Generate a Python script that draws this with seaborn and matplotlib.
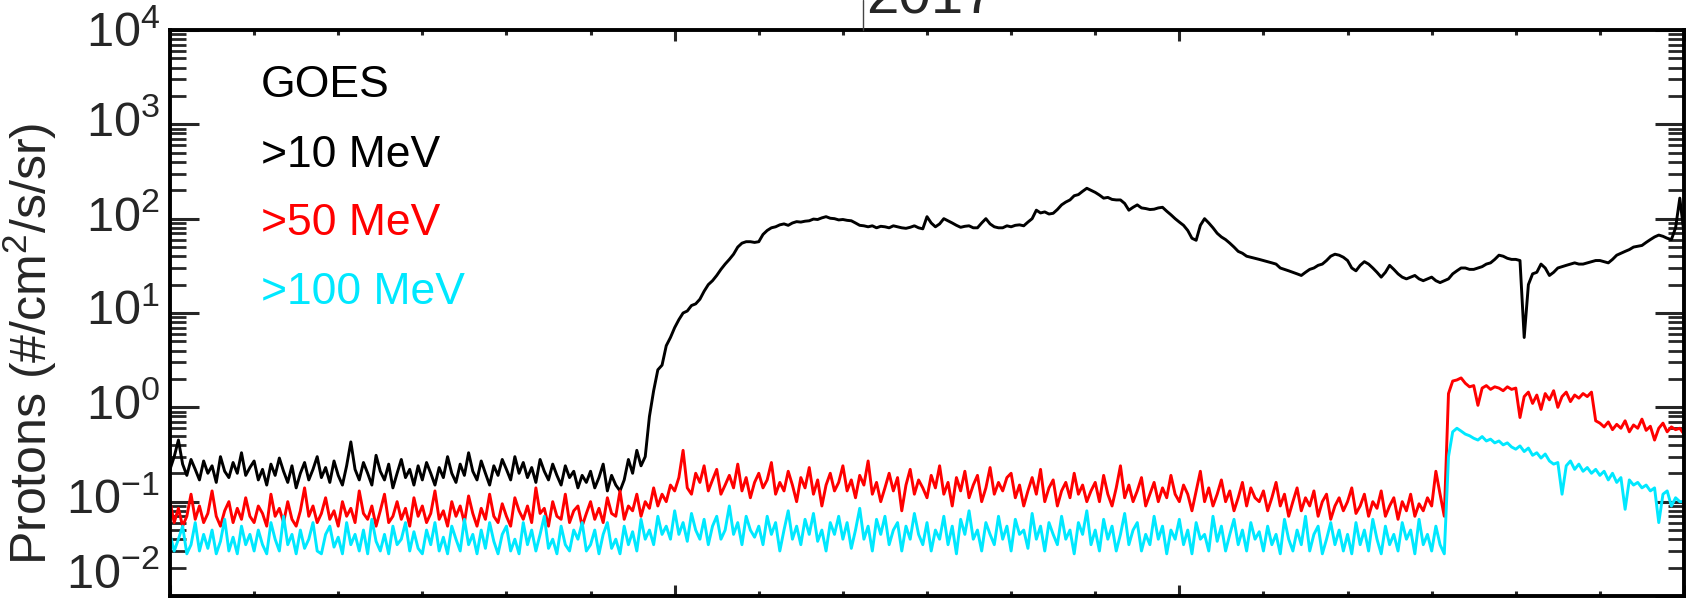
import numpy as np
import pandas as pd
import seaborn as sns
import matplotlib.pyplot as plt
from matplotlib.lines import Line2D
from matplotlib.transforms import blended_transform_factory, ScaledTranslation
from matplotlib.ticker import LogLocator, MultipleLocator, NullFormatter

# ------------------------------------------------------------
# GOES integral proton channels over 18 days, read every 0.05 day
# (one row = one day)
# ------------------------------------------------------------
step_days = 0.05

p10 = [
    0.22, 0.3, 0.45, 0.25, 0.19, 0.28, 0.22, 0.17, 0.27, 0.2, 0.24, 0.16, 0.3, 0.21, 0.18, 0.26, 0.2, 0.33, 0.19, 0.23,
    0.27, 0.17, 0.22, 0.15, 0.25, 0.19, 0.29, 0.21, 0.16, 0.24, 0.14, 0.2, 0.26, 0.17, 0.22, 0.3, 0.18, 0.23, 0.16, 0.27,
    0.19, 0.15, 0.24, 0.43, 0.22, 0.17, 0.26, 0.2, 0.15, 0.31, 0.21, 0.17, 0.25, 0.14, 0.2, 0.28, 0.18, 0.22, 0.15, 0.24,
    0.17, 0.26, 0.2, 0.15, 0.23, 0.18, 0.3, 0.2, 0.16, 0.25, 0.19, 0.33, 0.21, 0.17, 0.27, 0.2, 0.15, 0.24, 0.19, 0.28,
    0.22, 0.17, 0.3, 0.2, 0.26, 0.18, 0.23, 0.16, 0.28, 0.21, 0.17, 0.25, 0.19, 0.15, 0.24, 0.18, 0.21, 0.14, 0.19, 0.16,
    0.21, 0.14, 0.18, 0.25, 0.13, 0.19, 0.15, 0.13, 0.17, 0.28, 0.2, 0.35, 0.24, 0.3, 0.8, 1.5, 2.5, 2.8, 4.5, 5.5,
    7, 8.5, 10, 10.5, 12, 12.5, 14, 17, 20, 22, 25, 29, 33, 37, 42, 50, 55, 57, 57, 56,
    57, 68, 75, 80, 82, 86, 88, 85, 90, 93, 92, 94, 95, 99, 98, 102, 105, 101, 100, 97,
    98, 96, 95, 90, 85, 84, 82, 84, 80, 83, 82, 80, 84, 82, 80, 79, 81, 84, 80, 78,
    105, 90, 82, 88, 100, 95, 90, 85, 81, 83, 84, 80, 80, 90, 100, 88, 82, 80, 80, 84,
    82, 85, 86, 84, 92, 100, 123, 115, 118, 112, 114, 125, 140, 150, 158, 175, 180, 195, 210, 200,
    190, 178, 165, 168, 160, 158, 158, 145, 123, 132, 140, 130, 128, 125, 126, 130, 132, 120, 110, 100,
    92, 85, 75, 62, 59, 85, 100, 90, 80, 70, 64, 60, 55, 50, 45, 43, 40, 39, 38, 37,
    36, 35, 34, 33, 30, 29, 28, 27, 26, 25, 27, 29, 30, 32, 33, 36, 40, 42, 41, 39,
    36, 30, 28, 32, 35, 33, 30, 27, 24, 27, 32, 29, 26, 24, 23, 24, 25, 23, 22, 23,
    24, 22, 21, 22, 23, 26, 28, 30, 30, 29, 29, 30, 31, 33, 34, 37, 41, 40, 38, 37,
    37, 36, 5.5, 20, 26, 27, 33, 30, 25, 27, 30, 31, 32, 33, 34, 33, 33, 34, 35, 36,
    36, 35, 34, 37, 41, 43, 45, 47, 50, 51, 52, 56, 60, 64, 67, 65, 62, 60, 80, 165,
    70,
]

p50 = [
    0.1, 0.06, 0.085, 0.055, 0.07, 0.12, 0.065, 0.09, 0.06, 0.075, 0.13, 0.07, 0.055, 0.08, 0.1, 0.06, 0.085, 0.065, 0.11, 0.07,
    0.06, 0.09, 0.075, 0.055, 0.12, 0.07, 0.085, 0.06, 0.1, 0.065, 0.055, 0.08, 0.14, 0.07, 0.09, 0.06, 0.075, 0.11, 0.065, 0.08,
    0.055, 0.1, 0.07, 0.085, 0.06, 0.13, 0.075, 0.065, 0.09, 0.055, 0.08, 0.12, 0.06, 0.07, 0.1, 0.065, 0.085, 0.055, 0.11, 0.07,
    0.09, 0.06, 0.075, 0.13, 0.065, 0.08, 0.055, 0.1, 0.07, 0.09, 0.06, 0.115, 0.075, 0.055, 0.085, 0.065, 0.12, 0.07, 0.06, 0.095,
    0.07, 0.055, 0.11, 0.08, 0.065, 0.09, 0.06, 0.14, 0.075, 0.085, 0.055, 0.1, 0.07, 0.065, 0.12, 0.06, 0.08, 0.09, 0.055, 0.075,
    0.1, 0.065, 0.085, 0.06, 0.11, 0.075, 0.07, 0.13, 0.065, 0.09, 0.08, 0.12, 0.07, 0.1, 0.085, 0.14, 0.09, 0.12, 0.1, 0.15,
    0.13, 0.18, 0.35, 0.14, 0.12, 0.2, 0.16, 0.24, 0.13, 0.17, 0.22, 0.12, 0.15, 0.19, 0.14, 0.25, 0.13, 0.18, 0.11, 0.16,
    0.2, 0.14, 0.17, 0.26, 0.12, 0.16, 0.13, 0.21, 0.15, 0.1, 0.18, 0.14, 0.23, 0.12, 0.17, 0.09, 0.15, 0.2, 0.13, 0.16,
    0.24, 0.13, 0.17, 0.11, 0.19, 0.15, 0.27, 0.12, 0.16, 0.1, 0.14, 0.2, 0.13, 0.18, 0.08, 0.15, 0.22, 0.12, 0.17, 0.14,
    0.11, 0.19, 0.14, 0.24, 0.12, 0.16, 0.09, 0.18, 0.13, 0.21, 0.11, 0.15, 0.19, 0.1, 0.14, 0.23, 0.12, 0.16, 0.13, 0.18,
    0.2, 0.11, 0.15, 0.09, 0.13, 0.18, 0.12, 0.22, 0.1, 0.14, 0.17, 0.09, 0.13, 0.16, 0.11, 0.2, 0.12, 0.15, 0.1, 0.13,
    0.16, 0.1, 0.19, 0.12, 0.09, 0.14, 0.24, 0.11, 0.15, 0.1, 0.13, 0.18, 0.09, 0.12, 0.16, 0.1, 0.14, 0.11, 0.19, 0.12,
    0.1, 0.15, 0.12, 0.08, 0.13, 0.21, 0.1, 0.14, 0.09, 0.12, 0.17, 0.1, 0.13, 0.08, 0.11, 0.16, 0.09, 0.14, 0.11, 0.1,
    0.13, 0.08, 0.11, 0.16, 0.09, 0.12, 0.07, 0.1, 0.14, 0.08, 0.11, 0.09, 0.13, 0.07, 0.1, 0.12, 0.065, 0.09, 0.11, 0.08,
    0.1, 0.14, 0.075, 0.09, 0.12, 0.07, 0.1, 0.085, 0.13, 0.07, 0.09, 0.11, 0.065, 0.1, 0.08, 0.12, 0.07, 0.095, 0.08, 0.11,
    0.09, 0.21, 0.12, 0.07, 1.4, 1.9, 1.95, 2.05, 1.8, 1.65, 1.7, 1.05, 1.6, 1.7, 1.55, 1.65, 1.6, 1.5, 1.65, 1.55,
    1.6, 0.78, 1.3, 1.45, 1.1, 1.35, 0.95, 1.4, 1.2, 1.5, 1.0, 1.3, 1.45, 1.15, 1.35, 1.25, 1.4, 1.3, 1.45, 0.72,
    0.68, 0.62, 0.7, 0.58, 0.66, 0.6, 0.72, 0.55, 0.65, 0.6, 0.75, 0.57, 0.63, 0.45, 0.6, 0.68, 0.55, 0.62, 0.58, 0.6,
    0.52,
]

p100 = [
    0.045, 0.03, 0.04, 0.055, 0.028, 0.035, 0.06, 0.03, 0.045, 0.032, 0.05, 0.028, 0.038, 0.065, 0.03, 0.042, 0.028, 0.055, 0.035, 0.045,
    0.03, 0.05, 0.035, 0.028, 0.06, 0.04, 0.03, 0.07, 0.035, 0.045, 0.028, 0.05, 0.032, 0.04, 0.06, 0.03, 0.028, 0.045, 0.055, 0.033,
    0.042, 0.028, 0.06, 0.035, 0.045, 0.03, 0.05, 0.028, 0.065, 0.038, 0.03, 0.045, 0.028, 0.055, 0.035, 0.04, 0.06, 0.03, 0.048, 0.032,
    0.028, 0.05, 0.035, 0.06, 0.03, 0.042, 0.028, 0.055, 0.04, 0.03, 0.065, 0.035, 0.045, 0.028, 0.05, 0.032, 0.06, 0.038, 0.028, 0.045,
    0.055, 0.03, 0.04, 0.028, 0.06, 0.035, 0.05, 0.03, 0.045, 0.07, 0.032, 0.04, 0.028, 0.055, 0.035, 0.03, 0.05, 0.04, 0.06, 0.03,
    0.035, 0.05, 0.028, 0.045, 0.06, 0.032, 0.04, 0.028, 0.055, 0.035, 0.048, 0.03, 0.065, 0.04, 0.05, 0.035, 0.07, 0.045, 0.055, 0.04,
    0.08, 0.045, 0.06, 0.038, 0.075, 0.05, 0.04, 0.065, 0.035, 0.055, 0.07, 0.04, 0.05, 0.09, 0.045, 0.06, 0.035, 0.07, 0.05, 0.042,
    0.055, 0.035, 0.07, 0.045, 0.06, 0.03, 0.05, 0.08, 0.04, 0.055, 0.035, 0.065, 0.045, 0.075, 0.038, 0.05, 0.03, 0.06, 0.045, 0.07,
    0.04, 0.06, 0.032, 0.05, 0.085, 0.04, 0.055, 0.03, 0.065, 0.045, 0.07, 0.035, 0.05, 0.06, 0.03, 0.055, 0.04, 0.075, 0.045, 0.035,
    0.06, 0.03, 0.05, 0.04, 0.07, 0.035, 0.055, 0.028, 0.065, 0.045, 0.08, 0.04, 0.05, 0.03, 0.06, 0.045, 0.035, 0.07, 0.04, 0.055,
    0.03, 0.065, 0.045, 0.05, 0.032, 0.075, 0.04, 0.055, 0.03, 0.06, 0.045, 0.035, 0.07, 0.04, 0.05, 0.028, 0.06, 0.045, 0.08, 0.035,
    0.05, 0.03, 0.065, 0.04, 0.055, 0.03, 0.045, 0.075, 0.035, 0.05, 0.06, 0.03, 0.045, 0.035, 0.07, 0.04, 0.055, 0.028, 0.05, 0.04,
    0.065, 0.035, 0.05, 0.028, 0.06, 0.04, 0.045, 0.03, 0.07, 0.038, 0.055, 0.03, 0.045, 0.065, 0.035, 0.05, 0.03, 0.06, 0.04, 0.048,
    0.03, 0.055, 0.035, 0.045, 0.028, 0.065, 0.04, 0.03, 0.05, 0.035, 0.07, 0.03, 0.045, 0.055, 0.028, 0.04, 0.06, 0.035, 0.05, 0.03,
    0.045, 0.028, 0.06, 0.035, 0.05, 0.03, 0.065, 0.04, 0.028, 0.055, 0.035, 0.045, 0.03, 0.06, 0.04, 0.05, 0.028, 0.065, 0.035, 0.045,
    0.03, 0.055, 0.035, 0.028, 0.3, 0.55, 0.6, 0.56, 0.52, 0.5, 0.47, 0.45, 0.49, 0.44, 0.46, 0.42, 0.44, 0.4, 0.42, 0.38,
    0.36, 0.39, 0.34, 0.37, 0.31, 0.33, 0.29, 0.32, 0.27, 0.25, 0.26, 0.12, 0.24, 0.27, 0.22, 0.25, 0.21, 0.23, 0.2, 0.22,
    0.19, 0.21, 0.17, 0.2, 0.16, 0.18, 0.083, 0.17, 0.15, 0.16, 0.14, 0.15, 0.13, 0.14, 0.06, 0.12, 0.13, 0.09, 0.11, 0.1,
    0.1,
]

channels = ['>10 MeV', '>50 MeV', '>100 MeV']
colors = ['black', '#ff0000', '#00e8ff']
decades = [-2, -1, 0, 1, 2, 3, 4]
year_label = '2017'

# long-form table for seaborn
df = pd.concat([
    pd.DataFrame({'day': np.arange(len(vals)) * step_days, 'flux': vals, 'channel': name})
    for name, vals in zip(channels, [p10, p50, p100])
], ignore_index=True)

# ------------------------------------------------------------
# style
# ------------------------------------------------------------
sns.set_theme(style='ticks')
plt.rcParams['font.family'] = ['Liberation Sans', 'DejaVu Sans']
plt.rcParams['mathtext.fontset'] = 'custom'
plt.rcParams['mathtext.rm'] = 'Liberation Sans'
plt.rcParams['mathtext.it'] = 'Liberation Sans:italic'
plt.rcParams['mathtext.default'] = 'regular'
plt.rcParams['axes.unicode_minus'] = False

W, H = 1686, 598
fig = plt.figure(figsize=(W / 100, H / 100), dpi=100)
ax = fig.add_axes([170 / W, 2 / H, 1514 / W, 566 / H])

sns.lineplot(data=df, x='day', y='flux', hue='channel', hue_order=channels,
             palette=colors, linewidth=2.1, legend=False, ax=ax)

ax.set_yscale('log')
ax.set_ylim(1e-2, 1e4)
ax.set_xlim(0, 18)

# axes box & ticks
for sp in ax.spines.values():
    sp.set_visible(True)
    sp.set_linewidth(2.8)
    sp.set_color('black')

ax.yaxis.set_major_locator(LogLocator(base=10, numticks=10))
ax.yaxis.set_minor_locator(LogLocator(base=10, subs=np.arange(2, 10), numticks=20))
ax.yaxis.set_minor_formatter(NullFormatter())
ax.tick_params(axis='y', which='major', direction='in', length=21, width=2.2,
               left=True, right=True, labelleft=False)
ax.tick_params(axis='y', which='minor', direction='in', length=11.5, width=2.0,
               left=True, right=True)

ax.xaxis.set_major_locator(MultipleLocator(6))
ax.xaxis.set_minor_locator(MultipleLocator(1))
ax.tick_params(axis='x', which='major', direction='in', length=8, width=2.2,
               top=True, bottom=True, labelbottom=False)
ax.tick_params(axis='x', which='minor', direction='in', length=3.5, width=2.2,
               top=True, bottom=True)

# decade labels, placed the way the original plot sets them
# (baseline a little below each tick; the lowest one pushed up into the frame)
label_drop_px = {4: 17, 3: 12, 2: 12, 1: 12, 0: 12, -1: 12, -2: -8}
ytrans = blended_transform_factory(ax.transAxes, ax.transData)
for k in decades:
    off = ScaledTranslation(-10 / 100, -label_drop_px[k] / 100, fig.dpi_scale_trans)
    ax.text(0, 10.0 ** k, f'$10^{{{k}}}$', transform=ytrans + off,
            ha='right', va='baseline', fontsize=35, clip_on=False)

ax.set_xlabel('')
ax.set_ylabel('Protons (#/cm$^2$/s/sr)', fontsize=36)
ax.yaxis.set_label_coords(-0.073, 0.445)

# in-plot labels
label_y = [0.882, 0.758, 0.638, 0.516]
ax.text(0.060, label_y[0], 'GOES', transform=ax.transAxes, fontsize=32,
        color='black', va='baseline')
for name, col, yy in zip(channels, colors, label_y[1:]):
    ax.text(0.060, yy, name, transform=ax.transAxes, fontsize=32,
            color=col, va='baseline')

# year marker at the top (partially out of frame, as in the source figure)
fig.text(866 / W, 1 - 13 / H, year_label, fontsize=42, ha='left', va='baseline')
fig.add_artist(Line2D([863 / W, 863 / W], [1 - 30 / H, 1.0],
                      transform=fig.transFigure, color='#444444', lw=1.0))

fig.savefig('out.png', dpi=100)
